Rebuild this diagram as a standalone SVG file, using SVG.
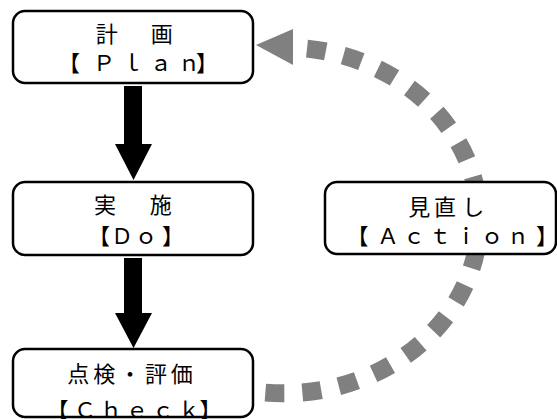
<svg xmlns="http://www.w3.org/2000/svg" width="557" height="419" viewBox="0 0 557 419">
<style>
.box{fill:#fff;stroke:#000;stroke-width:2.5}
.t{font-family:"Noto Sans CJK JP","Noto Sans CJK SC",sans-serif;font-size:22px;fill:#000;text-anchor:start}
.arr{fill:#000}
.dash{fill:none;stroke:#808080;stroke-width:18;stroke-dasharray:19 18}
</style>
<g id="connectors">
<path class="dash" d="M 307 48.6 A 196 173 0 1 1 245 390"/>
<polygon points="256,45 293,29 293,65" fill="#808080"/>
<polygon class="arr" points="124,86 142,86 142,144 152,144 133.5,180 115,144 124,144"/>
<polygon class="arr" points="124,258 142,258 142,313 152,313 133.5,348 115,313 124,313"/>
</g>
<g id="plan">
<rect class="box" x="13" y="11" width="240" height="72" rx="12"/>
<text class="t" x="95.7 123.2 150.7" y="42">計　画</text>
<text class="t" x="58 93 121.3 149.7 178 196" y="71">【Ｐｌａｎ】</text>
</g>
<g id="do">
<rect class="box" x="13" y="182" width="240" height="73" rx="12"/>
<text class="t" x="94 122 149.8" y="213">実　施</text>
<text class="t" x="88 111 135 162" y="244">【Ｄｏ】</text>
</g>
<g id="check">
<rect class="box" x="13" y="349" width="240" height="68" rx="12"/>
<text class="t" x="67.3 93.2 119 144.9 170.7" y="382">点検・評価</text>
<text class="t" x="46.5 74 100 126 152 178 199.5" y="418">【Ｃｈｅｃｋ】</text>
</g>
<g id="action">
<rect class="box" x="325" y="182" width="231" height="72" rx="12"/>
<text class="t" x="408.2 434 462.3" y="215">見直し</text>
<text class="t" x="346.5 377 403 429 455 481 507 536" y="244">【Ａｃｔｉｏｎ】</text>
</g>
</svg>
